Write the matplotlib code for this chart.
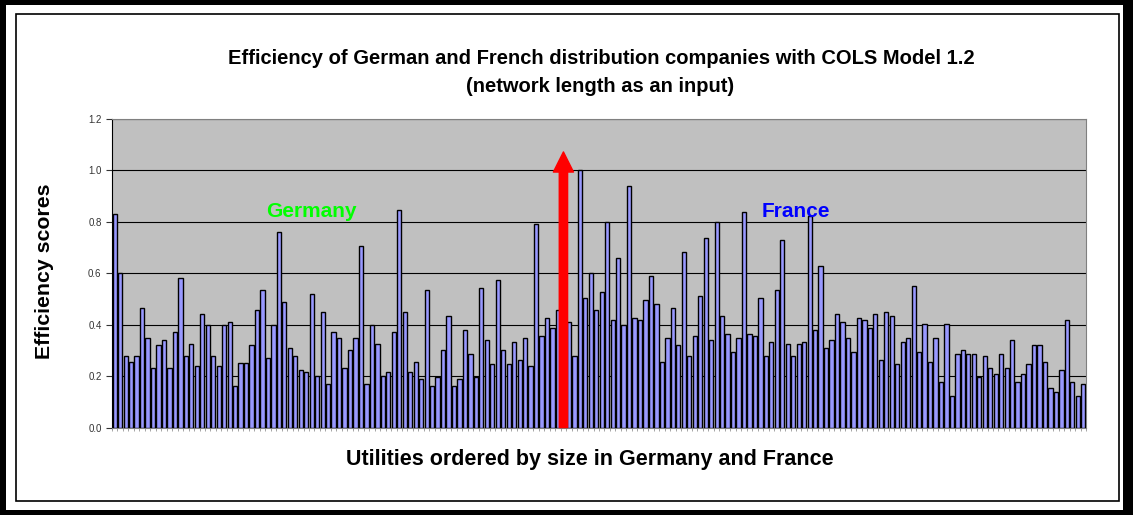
import numpy as np
import matplotlib
matplotlib.use("Agg")
import matplotlib.pyplot as plt
from matplotlib.patches import Rectangle

# efficiency scores, utilities ordered by size (Germany first, then France)
scores = [
    0.83, 0.60, 0.28, 0.256, 0.28, 0.466, 0.35, 0.23, 0.32, 0.34,
    0.23, 0.37, 0.58, 0.28, 0.326, 0.24, 0.44, 0.40, 0.28, 0.24,
    0.40, 0.41, 0.16, 0.25, 0.25, 0.32, 0.457, 0.535, 0.27, 0.40,
    0.76, 0.49, 0.31, 0.28, 0.225, 0.217, 0.52, 0.20, 0.45, 0.17,
    0.37, 0.35, 0.23, 0.30, 0.35, 0.705, 0.17, 0.40, 0.326, 0.20,
    0.217, 0.37, 0.847, 0.45, 0.217, 0.256, 0.187, 0.535, 0.162, 0.195,
    0.30, 0.435, 0.162, 0.187, 0.38, 0.287, 0.195, 0.543, 0.34, 0.248,
    0.574, 0.30, 0.248, 0.334, 0.264, 0.35, 0.24, 0.79, 0.357, 0.427,
    0.388, 0.457, 0.45, 0.41, 0.28, 1.00, 0.504, 0.60, 0.457, 0.527,
    0.80, 0.42, 0.66, 0.40, 0.94, 0.427, 0.42, 0.496, 0.59, 0.48,
    0.256, 0.35, 0.466, 0.32, 0.683, 0.28, 0.357, 0.513, 0.738, 0.34,
    0.80, 0.435, 0.365, 0.295, 0.35, 0.838, 0.365, 0.357, 0.505, 0.28,
    0.334, 0.535, 0.73, 0.326, 0.28, 0.326, 0.334, 0.822, 0.38, 0.63,
    0.31, 0.34, 0.443, 0.41, 0.35, 0.295, 0.427, 0.42, 0.388, 0.443,
    0.264, 0.45, 0.435, 0.248, 0.334, 0.35, 0.552, 0.295, 0.404, 0.256,
    0.35, 0.178, 0.404, 0.123, 0.287, 0.30, 0.287, 0.287, 0.195, 0.28,
    0.23, 0.21, 0.287, 0.23, 0.34, 0.178, 0.21, 0.248, 0.32, 0.32,
    0.256, 0.155, 0.14, 0.225, 0.42, 0.178, 0.123, 0.17,
]
border_index = 82   # where the German utilities end
border_top = 1.072
yticks = [0.0, 0.2, 0.4, 0.6, 0.8, 1.0, 1.2]

plt.rcParams["font.family"] = ["Liberation Sans", "DejaVu Sans"]

fig = plt.figure(figsize=(11.33, 5.15), dpi=100)
fig.patch.set_facecolor("black")
W, H = 1133, 515
fig.patches.append(Rectangle((6 / W, 5 / H), 1117 / W, 505 / H,
                             transform=fig.transFigure, fc="white", ec="none", zorder=-10))
fig.patches.append(Rectangle((15.5 / W, 14.5 / H), 1103 / W, 486 / H,
                             transform=fig.transFigure, fc="none", ec="black", lw=1.2, zorder=-5))

ax = fig.add_axes([112 / W, 87.5 / H, 974 / W, 308.5 / H])
ax.set_facecolor("#C0C0C0")

x = np.arange(len(scores))
ax.bar(x, scores, width=0.78, color="#9999FF", edgecolor="black", linewidth=1.0, zorder=3)

ax.set_xlim(-0.5, len(scores) - 0.5)
ax.set_ylim(0, 1.2)
ax.set_yticks(yticks)
ax.set_yticklabels([f"{v:.1f}" for v in yticks])
ax.yaxis.grid(True, color="black", linewidth=0.8, zorder=1)
ax.set_axisbelow(True)
ax.tick_params(axis="y", labelsize=7, colors="#333333", length=4, width=0.8, direction="out")
ax.set_xticks(np.arange(len(scores) + 1) - 0.5)
ax.set_xticklabels([])
ax.tick_params(axis="x", length=2, width=0.5, colors="#808080", direction="out")
for s in ax.spines.values():
    s.set_color("#808080")
    s.set_linewidth(0.8)
ax.spines["left"].set_color("black")

ax.annotate("", xy=(border_index, border_top), xytext=(border_index, 0),
            arrowprops=dict(arrowstyle="simple,head_width=14.5,head_length=14.5,tail_width=6",
                            mutation_scale=1, fc="#FF0000", ec="#FF0000",
                            shrinkA=0, shrinkB=0), zorder=5)

ax.text(36, 0.84, "Germany", color="#00FF00", fontsize=15, fontweight="bold",
        ha="center", va="center", zorder=6)
ax.text(124.5, 0.84, "France", color="#0000FF", fontsize=15, fontweight="bold",
        ha="center", va="center", zorder=6)

fig.text(601 / W, 1 - 58 / H,
         "Efficiency of German and French distribution companies with COLS Model 1.2",
         ha="center", va="center", fontsize=14.5, fontweight="bold")
fig.text(600 / W, 1 - 87 / H, "(network length as an input)",
         ha="center", va="center", fontsize=14.5, fontweight="bold")
fig.text(45 / W, 1 - 271 / H, "Efficiency scores", rotation=90,
         ha="center", va="center", fontsize=15.3, fontweight="bold")
fig.text(590 / W, 1 - 459 / H, "Utilities ordered by size in Germany and France",
         ha="center", va="center", fontsize=15.5, fontweight="bold")

fig.savefig("out.png", dpi=100, facecolor=fig.get_facecolor())
